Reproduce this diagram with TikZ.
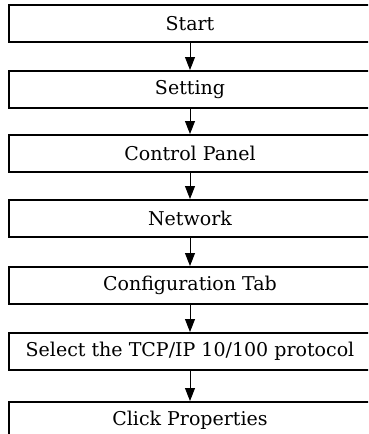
\documentclass[tikz,border=0pt]{standalone}
\usepackage{fontspec}
\setmainfont{DejaVu Serif}
\usetikzlibrary{arrows.meta}
\tikzset{
  stepbox/.style={draw=black, line width=2pt, rectangle, minimum width=362pt, minimum height=37pt, inner sep=0pt, font=\fontsize{19}{21}\selectfont},
  flow/.style={line width=0.9pt, -{Triangle[width=10pt,length=13pt]}}
}
\begin{document}
\begin{tikzpicture}[x=1pt,y=-1pt]
\useasboundingbox (0,0) rectangle (368,434);
\fill[white] (0,0) rectangle (368,434);
\clip (0,0) rectangle (368,434);
\node[stepbox] (n1) at (190,23.5) {Start};
\node[stepbox] (n2) at (190,89.5) {Setting};
\node[stepbox] (n3) at (190,153.5) {Control Panel};
\node[stepbox] (n4) at (190,218.5) {Network};
\node[stepbox] (n5) at (190,285.5) {Configuration Tab};
\node[stepbox] (n6) at (190,351.5) {Select the TCP/IP 10/100 protocol};
\node[stepbox] (n7) at (190,420.5) {Click Properties};
\draw[flow] (n1.south) -- (n2.north);
\draw[flow] (n2.south) -- (n3.north);
\draw[flow] (n3.south) -- (n4.north);
\draw[flow] (n4.south) -- (n5.north);
\draw[flow] (n5.south) -- (n6.north);
\draw[flow] (n6.south) -- (n7.north);
\end{tikzpicture}
\end{document}
